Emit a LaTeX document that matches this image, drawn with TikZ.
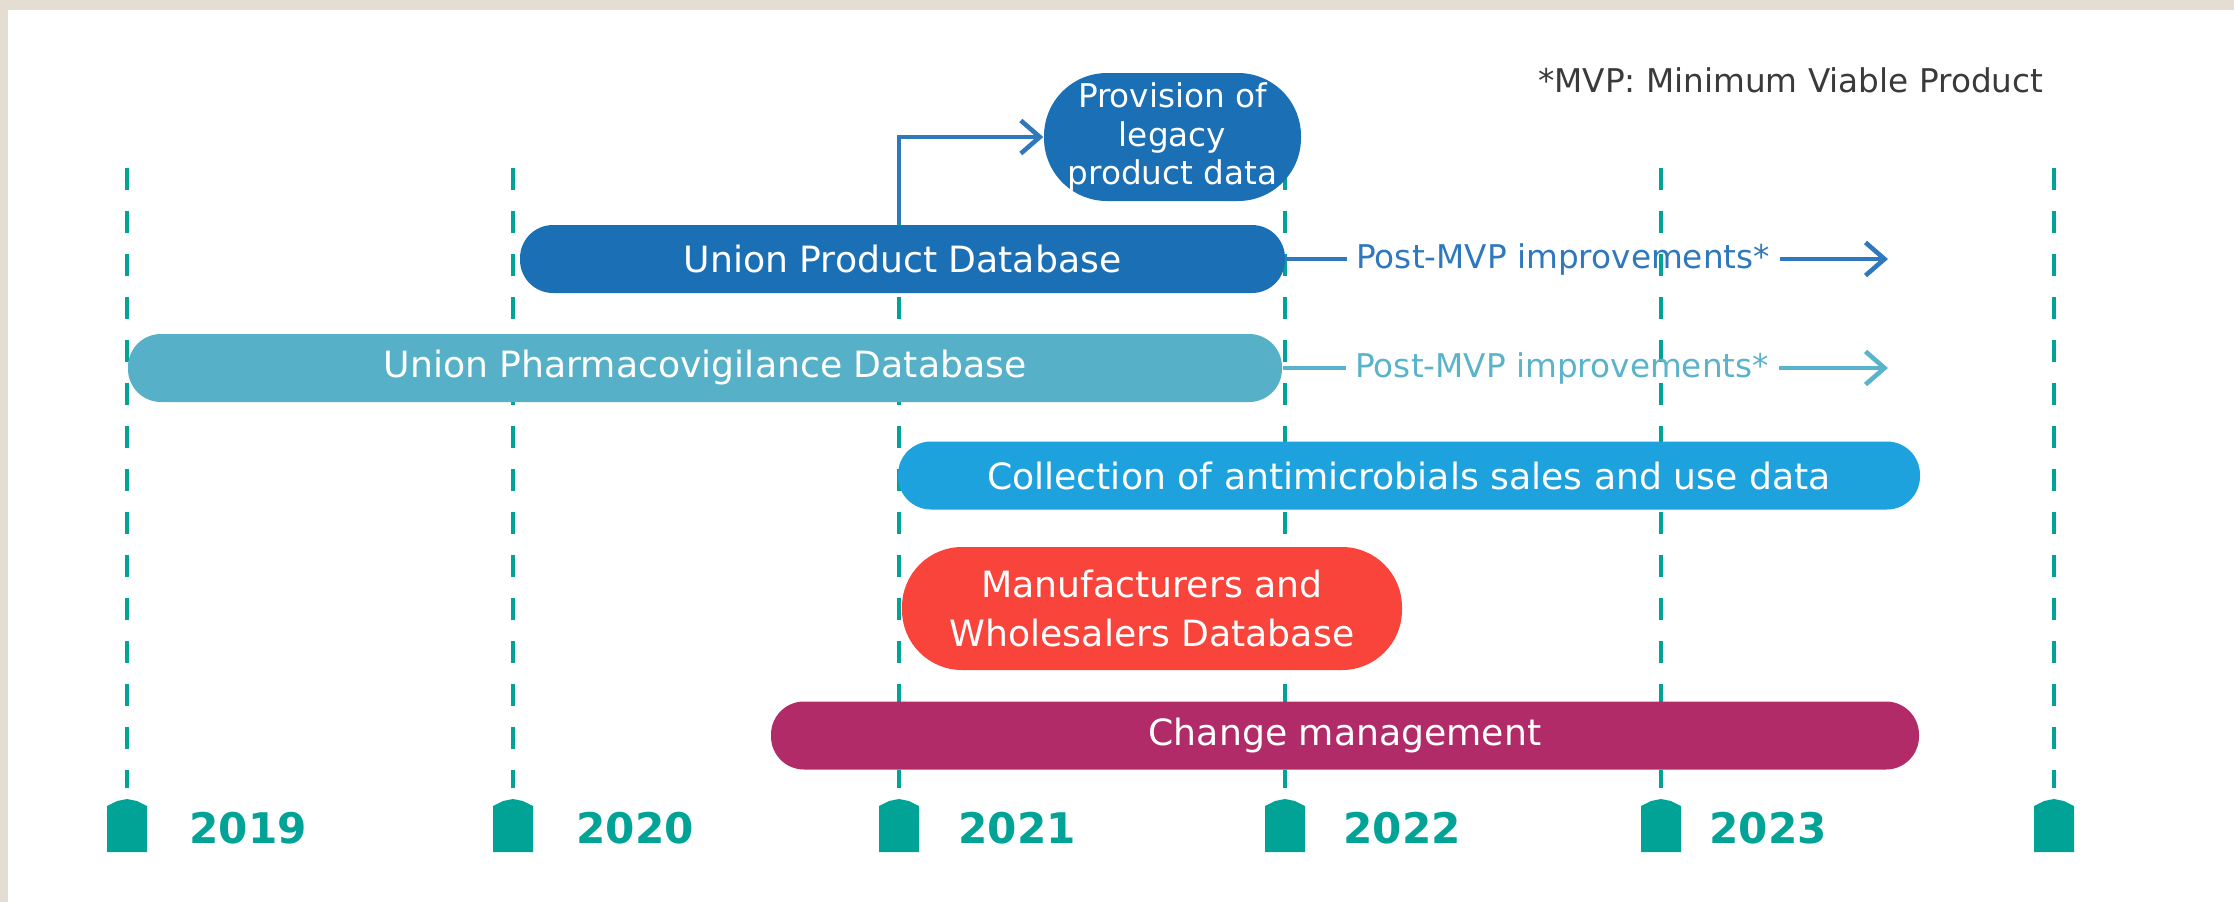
\documentclass[tikz,border=0pt]{standalone}
\usepackage{fontspec}
\setmainfont{DejaVu Sans}
\usepackage{tikz}
\usetikzlibrary{arrows.meta}

\definecolor{frameBeige}{HTML}{E3DDD2}
\definecolor{tlTeal}{HTML}{00A396}
\definecolor{updBlue}{HTML}{1B6FB5}
\definecolor{updLine}{HTML}{2F78BD}
\definecolor{pvBlue}{HTML}{56B0C8}
\definecolor{pvLine}{HTML}{5AB3CB}
\definecolor{amrBlue}{HTML}{1EA2DD}
\definecolor{mwdRed}{HTML}{F9443C}
\definecolor{cmPurple}{HTML}{B12B69}
\definecolor{noteGray}{HTML}{3A3A3A}

\newcommand{\barfont}{\fontsize{10.3}{12.4}\selectfont}
\newcommand{\notefont}{\fontsize{9.3}{11}\selectfont}
\newcommand{\yearfont}{\fontsize{12}{14}\selectfont\bfseries}

\begin{document}
\begin{tikzpicture}[x=0.1mm, y=-0.1mm, every node/.style={inner sep=0pt},
	>={Straight Barb[length=1.9mm, width=3.3mm]},
	track/.style={rounded corners=3.3mm, minimum height=6.8mm, text=white, font=\barfont},
	postnote/.style={font=\notefont, inner sep=0.9mm, anchor=west},
	conn/.style={line width=1.3pt},
	yeardash/.style={draw=tlTeal, line width=1.2pt, dash pattern=on 2.2mm off 2.1mm}]
	% frame
	\fill[frameBeige] (0,0) rectangle (2234,902);
	\fill[white] (8,10) rectangle (2234,902);
	\useasboundingbox (0,0) rectangle (2234,902);
	% year ticks and tabs
	\foreach \x/\yr in {127/2019, 513/2020, 899/2021, 1285/2022, 1661/2023, 2054/2024} {
		\coordinate (t\yr) at (\x,168);
		\draw[yeardash] (t\yr) -- (\x,788);
		\fill[tlTeal] (\x-20,852) -- (\x-20,806) -- (\x-10,801) -- (\x,799) -- (\x+10,801) -- (\x+20,806) -- (\x+20,852) -- cycle;
	}
	\foreach \yr/\lx in {2019/248, 2020/635, 2021/1017, 2022/1402, 2023/1768} {
		\node[text=tlTeal, font=\yearfont] (lbl\yr) at (\lx,828) {\yr};
	}
	% work streams
	\node[track, fill=updBlue, minimum width=76.5mm] (upd) at (902.5,259) {Union Product Database};
	\node[track, fill=pvBlue, minimum width=115.4mm] (upv) at (705,368) {Union Pharmacovigilance Database};
	\node[track, fill=amrBlue, minimum width=102.2mm] (amr) at (1409,475.5) {Collection of antimicrobials sales and use data};
	\node[track, fill=mwdRed, minimum width=50mm, minimum height=12.3mm, rounded corners=6mm, align=center,
		font={\fontsize{10.3}{14.2}\selectfont}] (mwd) at (1152,608.5) {Manufacturers and\\Wholesalers Database};
	\node[track, fill=cmPurple, minimum width=114.8mm] (cm) at (1345,735.5) {Change management};
	\node[track, fill=updBlue, minimum width=25.7mm, minimum height=12.8mm, rounded corners=6.3mm, align=center,
		font={\fontsize{9.3}{10.9}\selectfont}] (prov) at (1172.5,137) {Provision of\\legacy\\product data};
	% connectors
	\draw[->, updLine, conn] (upd.north -| t2021) |- (prov.west);
	\node[postnote, text=updLine, xshift=6.1mm] (updpost) at (upd.east) {Post-MVP improvements*};
	\coordinate (updend) at (1888,259);
	\draw[updLine, conn] (upd.east) -- (updpost.west);
	\draw[->, updLine, conn] (updpost.east) -- (updend);
	\node[postnote, text=pvLine, xshift=6.3mm] (upvpost) at (upv.east) {Post-MVP improvements*};
	\coordinate (upvend) at (1888,368);
	\draw[pvLine, conn] (upv.east) -- (upvpost.west);
	\draw[->, pvLine, conn] (upvpost.east) -- (upvend);
	% footnote
	\node[anchor=east, font=\notefont, text=noteGray] (mvpnote) at (2044,80) {*MVP: Minimum Viable Product};
\end{tikzpicture}
\end{document}
